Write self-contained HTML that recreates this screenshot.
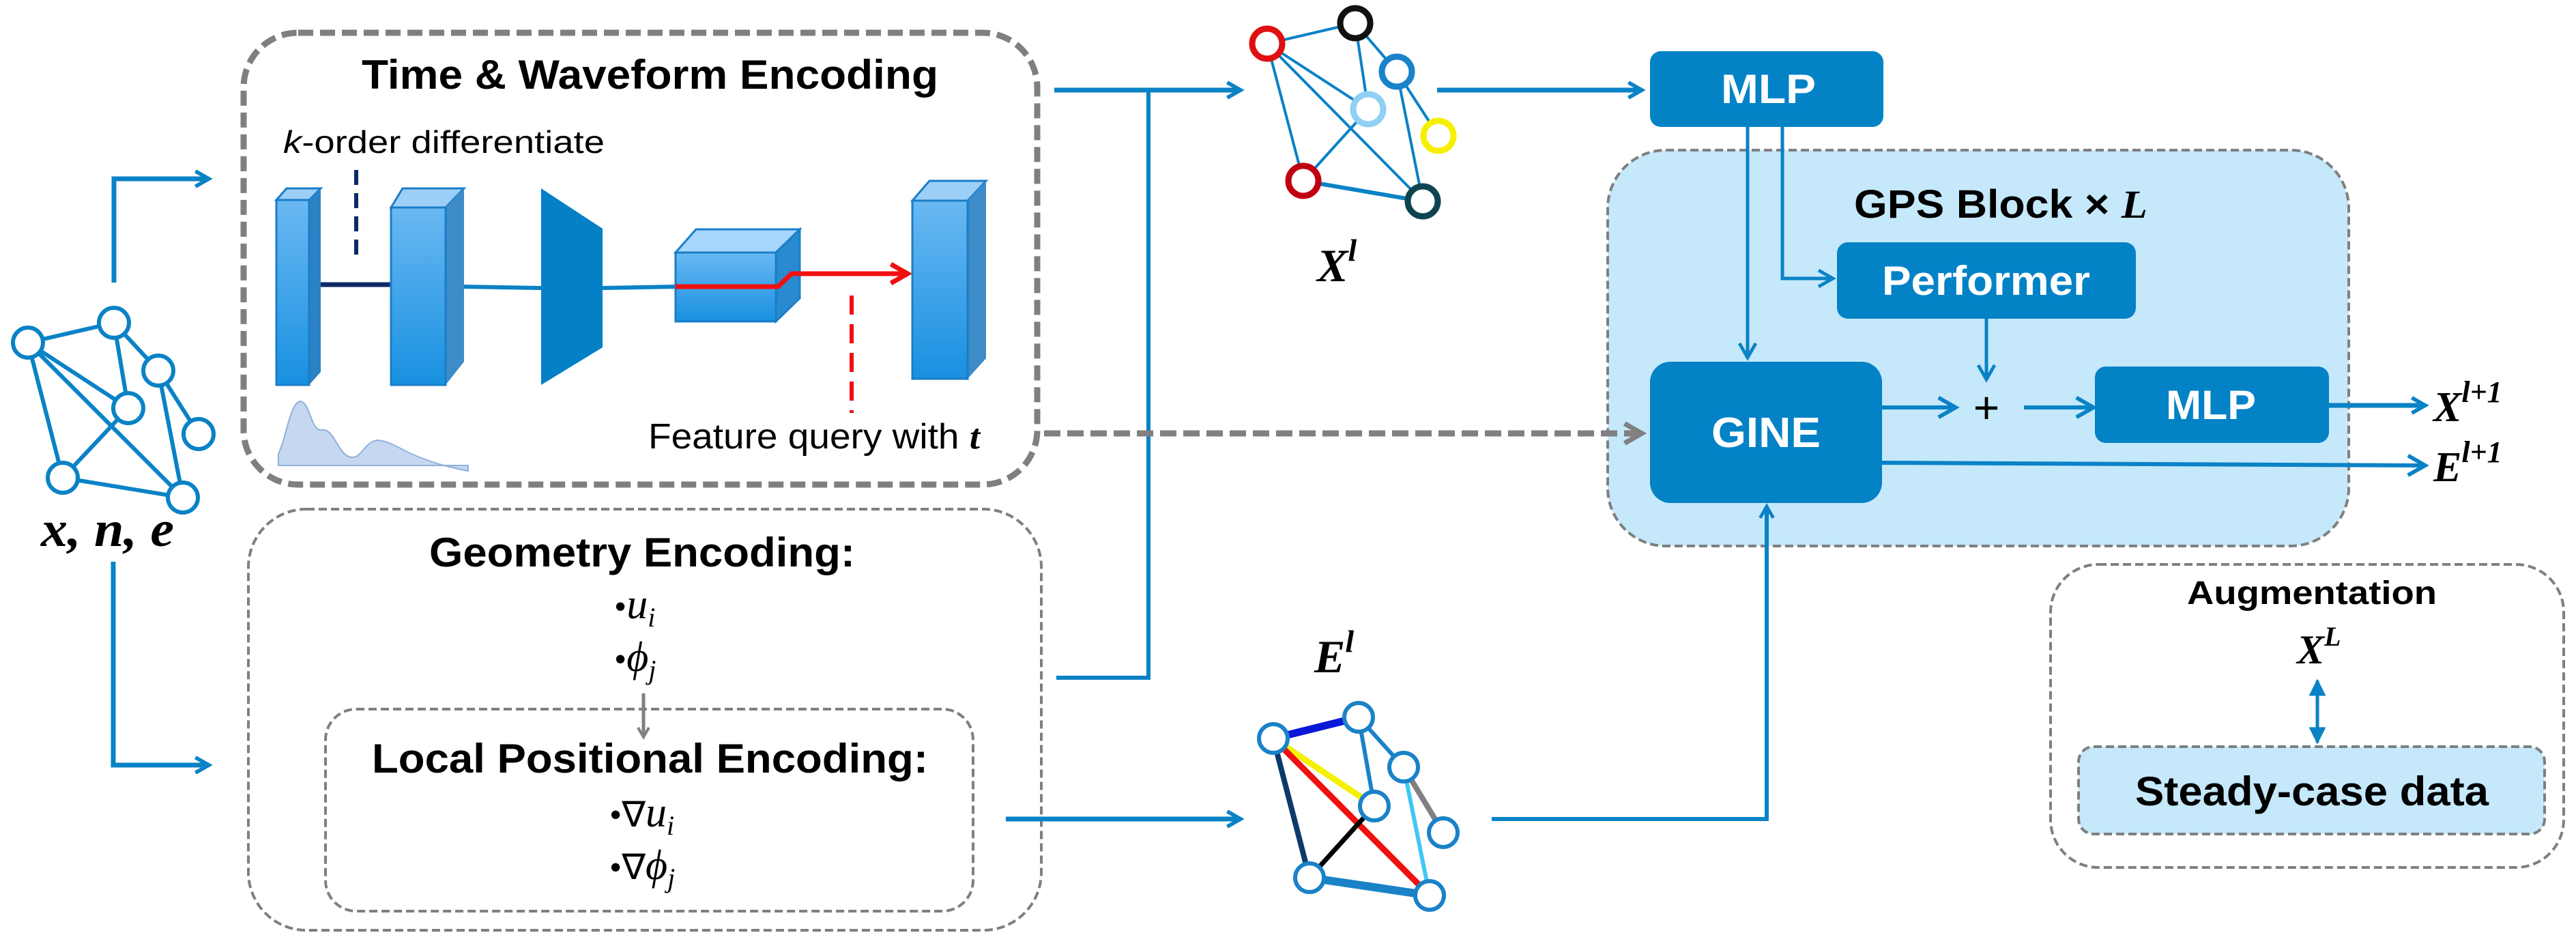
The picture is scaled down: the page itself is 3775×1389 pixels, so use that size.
<!DOCTYPE html>
<html><head><meta charset="utf-8"><style>
html,body{margin:0;padding:0;background:#fff;}
svg{display:block;}
.t{font-family:"Liberation Sans",sans-serif;font-weight:bold;}
.m{font-family:"Liberation Serif",serif;font-style:italic;}
</style></head><body>
<svg width="3775" height="1389" viewBox="0 0 3775 1389" xmlns="http://www.w3.org/2000/svg">
<defs>
<marker id="ab" viewBox="0 0 10 10" refX="8" refY="5" markerWidth="4" markerHeight="4" orient="auto-start-reverse" markerUnits="strokeWidth"><path d="M1,1 L8,5 L1,9" fill="none" stroke="#0a82c6" stroke-width="2"/></marker>
<marker id="ab2" viewBox="0 0 10 10" refX="8" refY="5" markerWidth="6" markerHeight="6" orient="auto-start-reverse" markerUnits="strokeWidth"><path d="M1,1 L8,5 L1,9" fill="none" stroke="#0a82c6" stroke-width="1.6"/></marker>
<marker id="ag" viewBox="0 0 10 10" refX="8" refY="5" markerWidth="4" markerHeight="4" orient="auto" markerUnits="strokeWidth"><path d="M1,1 L8,5 L1,9" fill="none" stroke="#808080" stroke-width="2"/></marker>
<marker id="ar" viewBox="0 0 10 10" refX="8" refY="5" markerWidth="5" markerHeight="5" orient="auto" markerUnits="strokeWidth"><path d="M1,1 L8,5 L1,9" fill="none" stroke="#f01010" stroke-width="2"/></marker>
<marker id="ad" viewBox="0 0 10 10" refX="9" refY="5" markerWidth="5" markerHeight="6" orient="auto-start-reverse" markerUnits="strokeWidth"><path d="M0,0 L10,5 L0,10 Z" fill="#0a82c6"/></marker>
<linearGradient id="bg" x1="0" y1="0" x2="0" y2="1"><stop offset="0" stop-color="#6ab8f2"/><stop offset="1" stop-color="#1890e0"/></linearGradient>
</defs>

<rect x="357" y="48" width="1163" height="662" rx="80" fill="none" stroke="#7f7f7f" stroke-width="9" stroke-dasharray="22 10"/>
<text class="t" x="530" y="130" font-size="60" textLength="845" lengthAdjust="spacingAndGlyphs">Time &amp; Waveform Encoding</text>
<text x="415" y="224" font-size="46" font-family="Liberation Sans,sans-serif" textLength="471" lengthAdjust="spacingAndGlyphs"><tspan font-style="italic">k</tspan>-order differentiate</text>
<line x1="522" y1="249" x2="522" y2="385" stroke="#0d2a66" stroke-width="6" stroke-dasharray="22 12"/>
<polygon points="405,293 420,276 470,276 453,293" fill="#9ccff8" stroke="#1a7dc8" stroke-width="3"/>
<polygon points="453,293 470,276 470,545 453,564" fill="#2a82c4"/>
<rect x="405" y="293" width="48" height="271" fill="url(#bg)" stroke="#1a7dc8" stroke-width="3"/>
<line x1="470" y1="417" x2="573" y2="417" stroke="#0d2a66" stroke-width="7"/>
<polygon points="573,304 590,276 680,276 653,304" fill="#9ccff8" stroke="#1a7dc8" stroke-width="3"/>
<polygon points="653,304 680,276 680,530 653,564" fill="#3d8cc8"/>
<rect x="573" y="304" width="80" height="260" fill="url(#bg)" stroke="#1a7dc8" stroke-width="3"/>
<line x1="680" y1="420" x2="793" y2="422" stroke="#0a82c6" stroke-width="6"/>
<polygon points="793,276 883,335 883,509 793,564" fill="#0380c6"/>
<line x1="883" y1="422" x2="990" y2="420" stroke="#0a82c6" stroke-width="6"/>
<polygon points="990,370 1020,336 1172,336 1137,370" fill="#a6d6fc" stroke="#1a7dc8" stroke-width="3"/>
<polygon points="1137,370 1172,336 1172,437 1137,471" fill="#2a8ad0" stroke="#1a7dc8" stroke-width="3"/>
<rect x="990" y="370" width="147" height="101" fill="url(#bg)" stroke="#1a7dc8" stroke-width="3"/>
<polyline points="990,420 1140,420 1160,401 1330,401" fill="none" stroke="#f01010" stroke-width="7" marker-end="url(#ar)"/>
<line x1="1248" y1="433" x2="1248" y2="605" stroke="#f01010" stroke-width="6" stroke-dasharray="28 14"/>
<polygon points="1337,294 1362,265 1445,265 1418,294" fill="#9ccff8" stroke="#1a7dc8" stroke-width="3"/>
<polygon points="1418,294 1445,265 1445,525 1418,555" fill="#3d8cc8"/>
<rect x="1337" y="294" width="81" height="261" fill="url(#bg)" stroke="#1a7dc8" stroke-width="3"/>
<path d="M408,665 C420,640 425,590 440,588 C455,590 455,630 470,630 C490,625 495,668 515,670 C530,672 535,645 555,645 C575,648 590,660 610,668 C640,680 660,685 686,690 L686,682 L408,682 Z" fill="#c5d8ef" stroke="#8fb0de" stroke-width="2"/>
<text x="950" y="657" font-size="52" font-family="Liberation Sans,sans-serif" textLength="486" lengthAdjust="spacingAndGlyphs">Feature query with <tspan font-weight="bold" font-style="italic" font-family="Liberation Serif,serif">t</tspan></text>

<g stroke="#0a82c6" stroke-width="6" fill="#fff">
<line x1="41" y1="502" x2="167" y2="473"/><line x1="41" y1="502" x2="92" y2="700"/>
<line x1="41" y1="502" x2="188" y2="598"/><line x1="41" y1="502" x2="268" y2="729"/>
<line x1="167" y1="473" x2="188" y2="598"/><line x1="167" y1="473" x2="232" y2="543"/>
<line x1="232" y1="543" x2="291" y2="636"/><line x1="232" y1="543" x2="268" y2="729"/>
<line x1="188" y1="598" x2="92" y2="700"/><line x1="92" y1="700" x2="268" y2="729"/>
<circle cx="41" cy="502" r="22"/><circle cx="167" cy="473" r="22"/><circle cx="232" cy="543" r="22"/>
<circle cx="188" cy="598" r="22"/><circle cx="291" cy="636" r="22"/><circle cx="92" cy="700" r="22"/><circle cx="268" cy="729" r="22"/>
</g>
<text class="m" x="60" y="800" font-size="74" font-weight="bold" textLength="195" lengthAdjust="spacingAndGlyphs">x, n, e</text>
<polyline points="167,414 167,262 306,262" fill="none" stroke="#0a82c6" stroke-width="7" marker-end="url(#ab)"/>
<polyline points="166,823 166,1121 306,1121" fill="none" stroke="#0a82c6" stroke-width="7" marker-end="url(#ab)"/>

<rect x="364" y="746" width="1162" height="617" rx="85" fill="none" stroke="#7f7f7f" stroke-width="4" stroke-dasharray="12 6"/>
<text class="t" x="629" y="830" font-size="60" textLength="624" lengthAdjust="spacingAndGlyphs">Geometry Encoding:</text>
<text class="m" x="900" y="906" font-size="62"><tspan font-style="normal" font-size="52">•</tspan>u<tspan font-size="40" dy="12">i</tspan></text>
<text class="m" x="900" y="983" font-size="62"><tspan font-style="normal" font-size="52">•</tspan>ϕ<tspan font-size="40" dy="12">j</tspan></text>
<line x1="943" y1="1016" x2="943" y2="1080" stroke="#808080" stroke-width="5" marker-end="url(#ag)"/>
<rect x="477" y="1039" width="949" height="296" rx="45" fill="none" stroke="#7f7f7f" stroke-width="4" stroke-dasharray="12 6"/>
<text class="t" x="545" y="1132" font-size="60" textLength="815" lengthAdjust="spacingAndGlyphs">Local Positional Encoding:</text>
<text class="m" x="893" y="1211" font-size="62"><tspan font-style="normal" font-size="52">•∇</tspan>u<tspan font-size="40" dy="12">i</tspan></text>
<text class="m" x="893" y="1288" font-size="62"><tspan font-style="normal" font-size="52">•∇</tspan>ϕ<tspan font-size="40" dy="12">j</tspan></text>

<line x1="1545" y1="132" x2="1818" y2="132" stroke="#0a82c6" stroke-width="7" marker-end="url(#ab)"/>
<polyline points="1548,993 1683,993 1683,132" fill="none" stroke="#0a82c6" stroke-width="6"/>
<line x1="1474" y1="1200" x2="1818" y2="1200" stroke="#0a82c6" stroke-width="7" marker-end="url(#ab)"/>

<g stroke="#0a82c6" stroke-width="4">
<line x1="1857" y1="64" x2="1986" y2="34"/><line x1="1857" y1="64" x2="1910" y2="265"/>
<line x1="1857" y1="64" x2="2005" y2="160"/><line x1="1857" y1="64" x2="2085" y2="295"/>
<line x1="1986" y1="34" x2="2005" y2="160"/><line x1="1986" y1="34" x2="2047" y2="105"/>
<line x1="2047" y1="105" x2="2108" y2="199"/><line x1="2047" y1="105" x2="2085" y2="295"/>
<line x1="2005" y1="160" x2="1910" y2="265"/><line x1="1910" y1="265" x2="2085" y2="295" stroke-width="6"/>
</g>
<g fill="#fff" stroke-width="9">
<circle cx="1857" cy="64" r="22" stroke="#e01010"/><circle cx="1986" cy="34" r="22" stroke="#111"/>
<circle cx="2047" cy="105" r="22" stroke="#1a82c8"/><circle cx="2005" cy="160" r="22" stroke="#8fd0f4"/>
<circle cx="2108" cy="199" r="22" stroke="#f4f000"/><circle cx="1910" cy="265" r="22" stroke="#c00010"/>
<circle cx="2085" cy="295" r="22" stroke="#0d4450"/>
</g>
<text class="m" x="1930" y="412" font-size="68" font-weight="bold">X<tspan font-size="46" dy="-30">l</tspan></text>
<line x1="2106" y1="132" x2="2406" y2="132" stroke="#0a82c6" stroke-width="7" marker-end="url(#ab)"/>

<text class="m" x="1926" y="985" font-size="68" font-weight="bold">E<tspan font-size="46" dy="-30">l</tspan></text>
<g stroke-width="6">
<line x1="1866" y1="1082" x2="1991" y2="1051" stroke="#0a18d8" stroke-width="11"/>
<line x1="1991" y1="1051" x2="2057" y2="1124" stroke="#1a82c8"/>
<line x1="1991" y1="1051" x2="2014" y2="1181" stroke="#1a82c8"/>
<line x1="1866" y1="1082" x2="2014" y2="1181" stroke="#f4f000" stroke-width="9"/>
<line x1="1866" y1="1082" x2="2095" y2="1312" stroke="#f01010" stroke-width="9"/>
<line x1="1866" y1="1082" x2="1919" y2="1286" stroke="#0d3a6a" stroke-width="8"/>
<line x1="2014" y1="1181" x2="1919" y2="1286" stroke="#000" stroke-width="7"/>
<line x1="1919" y1="1286" x2="2095" y2="1312" stroke="#1a82c8" stroke-width="12"/>
<line x1="2057" y1="1124" x2="2095" y2="1312" stroke="#40c8f4" stroke-width="6"/>
<line x1="2057" y1="1124" x2="2115" y2="1220" stroke="#808080" stroke-width="8"/>
</g>
<g fill="#fff" stroke="#1a82c8" stroke-width="6">
<circle cx="1866" cy="1082" r="21"/><circle cx="1991" cy="1051" r="21"/><circle cx="2057" cy="1124" r="21"/>
<circle cx="2014" cy="1181" r="21"/><circle cx="2115" cy="1220" r="21"/><circle cx="1919" cy="1286" r="21"/><circle cx="2095" cy="1312" r="21"/>
</g>

<rect x="2356" y="220" width="1086" height="580" rx="85" fill="#c5e8fa" stroke="#7f7f7f" stroke-width="4" stroke-dasharray="12 6"/>
<polyline points="2186,1200 2589,1200 2589,742" fill="none" stroke="#0a82c6" stroke-width="6" marker-end="url(#ab)"/>
<line x1="1530" y1="635" x2="2406" y2="635" stroke="#808080" stroke-width="9" stroke-dasharray="24 10" marker-end="url(#ag)"/>
<text class="t" x="2717" y="319" font-size="58" textLength="430" lengthAdjust="spacingAndGlyphs">GPS Block × <tspan class="m" font-family="Liberation Serif,serif">L</tspan></text>
<rect x="2418" y="75" width="342" height="111" rx="16" fill="#0382c6"/>
<text class="t" x="2522" y="151" font-size="60" fill="#fff" textLength="139" lengthAdjust="spacingAndGlyphs">MLP</text>
<line x1="2561" y1="186" x2="2561" y2="524" stroke="#0a82c6" stroke-width="5" marker-end="url(#ab2)"/>
<polyline points="2612,186 2612,408 2686,408" fill="none" stroke="#0a82c6" stroke-width="5" marker-end="url(#ab2)"/>
<rect x="2692" y="355" width="438" height="112" rx="16" fill="#0382c6"/>
<text class="t" x="2758" y="432" font-size="60" fill="#fff" textLength="305" lengthAdjust="spacingAndGlyphs">Performer</text>
<line x1="2911" y1="467" x2="2911" y2="556" stroke="#0a82c6" stroke-width="5" marker-end="url(#ab2)"/>
<rect x="2418" y="530" width="340" height="207" rx="30" fill="#0382c6"/>
<text class="t" x="2508" y="655" font-size="62" fill="#fff" textLength="160" lengthAdjust="spacingAndGlyphs">GINE</text>
<line x1="2758" y1="597" x2="2866" y2="597" stroke="#0a82c6" stroke-width="6" marker-end="url(#ab2)"/>
<text x="2911" y="620" font-size="66" font-family="Liberation Sans,sans-serif" text-anchor="middle">+</text>
<line x1="2966" y1="597" x2="3068" y2="597" stroke="#0a82c6" stroke-width="6" marker-end="url(#ab2)"/>
<rect x="3070" y="537" width="343" height="112" rx="16" fill="#0382c6"/>
<text class="t" x="3174" y="614" font-size="60" fill="#fff" textLength="132" lengthAdjust="spacingAndGlyphs">MLP</text>
<line x1="3413" y1="594" x2="3554" y2="594" stroke="#0a82c6" stroke-width="7" marker-end="url(#ab)"/>
<text class="m" x="3566" y="617" font-size="62" font-weight="bold">X<tspan font-size="44" dy="-28">l+1</tspan></text>
<line x1="2758" y1="678" x2="3554" y2="682" stroke="#0a82c6" stroke-width="6" marker-end="url(#ab2)"/>
<text class="m" x="3566" y="705" font-size="62" font-weight="bold">E<tspan font-size="44" dy="-28">l+1</tspan></text>

<rect x="3005" y="827" width="752" height="444" rx="70" fill="none" stroke="#7f7f7f" stroke-width="4" stroke-dasharray="12 6"/>
<text class="t" x="3205" y="885" font-size="48" textLength="366" lengthAdjust="spacingAndGlyphs">Augmentation</text>
<text class="m" x="3366" y="972" font-size="60" font-weight="bold">X<tspan font-size="40" dy="-26">L</tspan></text>
<line x1="3396" y1="997" x2="3396" y2="1088" stroke="#0a82c6" stroke-width="5" marker-start="url(#ad)" marker-end="url(#ad)"/>
<rect x="3046" y="1094" width="683" height="128" rx="22" fill="#c5e8fa" stroke="#7f7f7f" stroke-width="4" stroke-dasharray="12 6"/>
<text class="t" x="3129" y="1180" font-size="60" textLength="518" lengthAdjust="spacingAndGlyphs">Steady-case data</text>
</svg>
</body></html>
